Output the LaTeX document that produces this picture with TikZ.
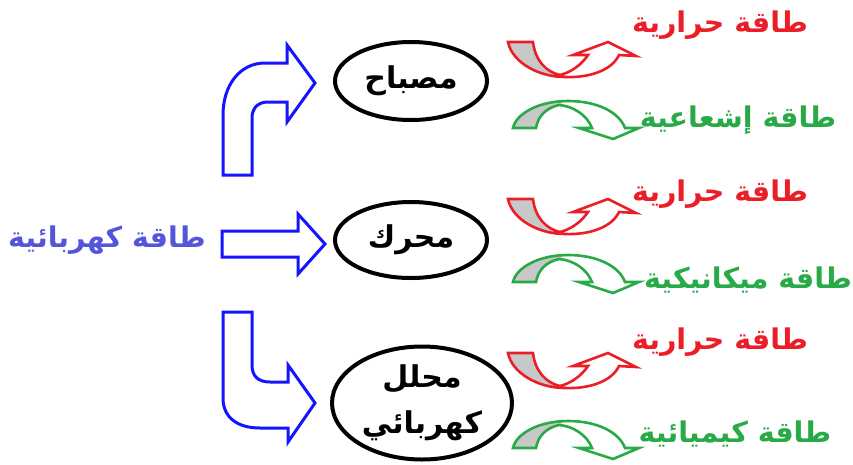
\documentclass[tikz,border=0pt]{standalone}
\usepackage{fontspec}
\usetikzlibrary{shapes.geometric}
\TeXXeTstate=1
\newfontfamily\arabicfont[Script=Arabic]{DejaVu Sans}
\newcommand\AR[1]{{\arabicfont\bfseries\beginR #1\endR}}
\definecolor{eblue}{RGB}{85,85,220}
\definecolor{ablue}{RGB}{20,20,255}
\definecolor{ered}{RGB}{235,30,40}
\definecolor{egreen}{RGB}{40,170,70}
\definecolor{egray}{RGB}{200,200,200}
\tikzset{
  lbl/.style={inner sep=0pt, font=\fontsize{28.5}{32}\selectfont},
  device/.style={ellipse, draw=black, line width=4pt, fill=white, inner sep=0pt,
                 font=\fontsize{30}{32}\selectfont, text=black},
  bigarrow/.style={draw=ablue, line width=3pt, fill=white, line join=miter},
  heatarrow/.pic={
    \fill[egray] (0,0) -- (25,0) .. controls (27,18) and (38,30) .. (52,33)
        -- (57,35) .. controls (30,35) and (4,20) .. (0,0) -- cycle;
    \draw[ered, line width=2.6pt, line join=miter]
        (0,0) -- (25,0) .. controls (27,18) and (38,30) .. (52,33)
        .. controls (64,30) and (74,22) .. (80,13) -- (65,13) -- (100,0) -- (128,14) -- (111,13)
        .. controls (104,28) and (82,36) .. (57,35)
        .. controls (30,35) and (4,20) .. (0,0) -- cycle;
  },
  lightarrow/.pic={
    \fill[egray] (0,0) -- (23,0) .. controls (25,-12) and (33,-20) .. (46,-23)
        -- (52,-27) .. controls (25,-27) and (3,-14) .. (0,0) -- cycle;
    \draw[egreen, line width=2.6pt, line join=miter]
        (0,0) -- (23,0) .. controls (25,-12) and (33,-20) .. (46,-23)
        .. controls (60,-22) and (74,-13) .. (79,0) -- (66,0) -- (100,11) -- (126,0) -- (112,0)
        .. controls (106,-16) and (84,-27) .. (55,-27)
        .. controls (25,-27) and (3,-14) .. (0,0) -- cycle;
  }
}
\begin{document}
\begin{tikzpicture}[x=1pt,y=-1pt]
\useasboundingbox[fill=white] (0,0) rectangle (853,464);

% source label
\node[lbl, text=eblue] (src) at (107,240) {\AR{طاقة كهربائية}};

% big blue arrows
\draw[bigarrow] (223,175) -- (223,115) .. controls (223,85) and (240,63) .. (265,63)
  -- (287,63) -- (287,45) -- (315,83) -- (287,122) -- (287,102) -- (268,102)
  .. controls (258,102) and (252,108) .. (252,118) -- (252,175) -- cycle;
\draw[bigarrow] (222,231) -- (298,231) -- (298,214) -- (325,244) -- (298,274)
  -- (298,257) -- (222,257) -- cycle;
\draw[bigarrow] (223,312) -- (223,398) .. controls (223,418) and (238,428) .. (260,428)
  -- (288,428) -- (288,442) -- (315,403) -- (288,365) -- (288,382) -- (270,382)
  .. controls (258,382) and (252,376) .. (252,365) -- (252,312) -- cycle;

% devices
\node[device, minimum width=152pt, minimum height=78pt] (lamp) at (411,81) {\AR{مصباح}};
\node[device, minimum width=152pt, minimum height=76pt] (motor) at (411,240) {\AR{محرك}};
\node[device, minimum width=180pt, minimum height=113pt, align=center] (cell) at (422,403)
  {\AR{محلل}\\[14pt]\AR{كهربائي}};

% small energy arrows
\pic at (508,42) {heatarrow};
\pic at (513,128) {lightarrow};
\pic at (508,199) {heatarrow};
\pic at (513,282) {lightarrow};
\pic at (508,353) {heatarrow};
\pic at (513,448) {lightarrow};

% output labels
\node[lbl, text=ered] (h1) at (720,25) {\AR{طاقة حرارية}};
\node[lbl, text=egreen] (r1) at (738,120) {\AR{طاقة إشعاعية}};
\node[lbl, text=ered] (h2) at (720,194) {\AR{طاقة حرارية}};
\node[lbl, text=egreen] (m2) at (748,280) {\AR{طاقة ميكانيكية}};
\node[lbl, text=ered] (h3) at (720,342) {\AR{طاقة حرارية}};
\node[lbl, text=egreen] (c3) at (735,434) {\AR{طاقة كيميائية}};
\end{tikzpicture}
\end{document}
